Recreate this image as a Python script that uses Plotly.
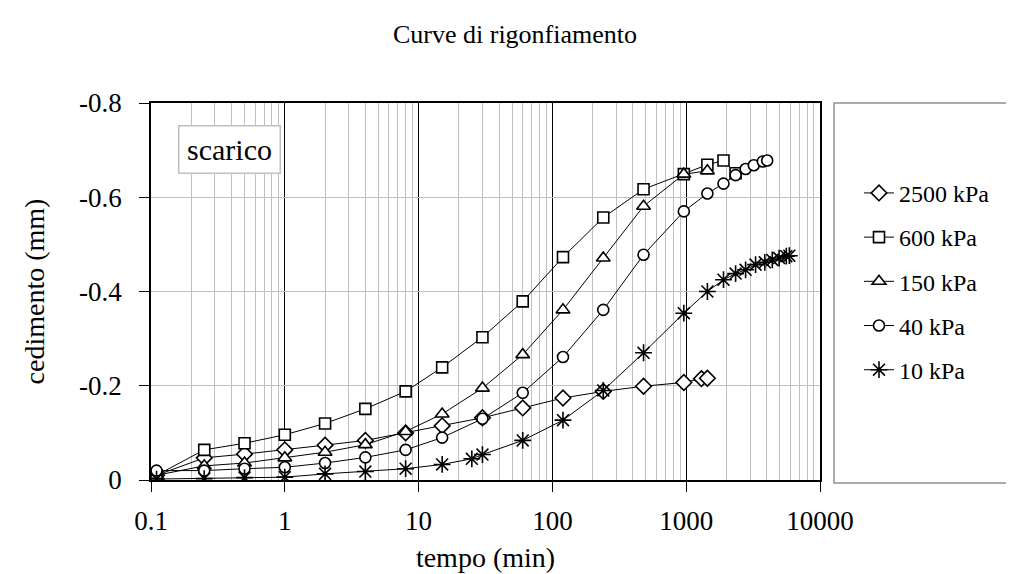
import plotly.graph_objects as go

# ---- data ----
t_2500 = [0.11, 0.25, 0.5, 1, 2, 4, 8, 15, 30, 60, 120, 240, 480, 960, 1300, 1440]
s_2500 = [-0.010, -0.047, -0.055, -0.064, -0.074, -0.084, -0.100, -0.115, -0.132, -0.153,
          -0.174, -0.188, -0.199, -0.207, -0.215, -0.216]

t_600 = [0.11, 0.25, 0.5, 1, 2, 4, 8, 15, 30, 60, 120, 240, 480, 960, 1440, 1900, 2340]
s_600 = [-0.010, -0.064, -0.078, -0.096, -0.120, -0.151, -0.188, -0.239, -0.303, -0.379,
         -0.473, -0.557, -0.617, -0.649, -0.669, -0.678, -0.651]

t_150 = [0.11, 0.25, 0.5, 1, 2, 4, 8, 15, 30, 60, 120, 240, 480, 960, 1440]
s_150 = [-0.010, -0.030, -0.036, -0.047, -0.059, -0.075, -0.103, -0.140, -0.195, -0.266,
         -0.361, -0.471, -0.581, -0.649, -0.656]

t_40 = [0.11, 0.25, 0.5, 1, 2, 4, 8, 15, 30, 60, 120, 240, 480, 960, 1440, 1900, 2340,
        2780, 3200, 3740, 4030]
s_40 = [-0.020, -0.020, -0.024, -0.027, -0.036, -0.048, -0.064, -0.090, -0.130, -0.185,
        -0.261, -0.361, -0.478, -0.570, -0.608, -0.629, -0.647, -0.660, -0.668, -0.676, -0.678]

t_10 = [0.11, 0.25, 0.5, 1, 2, 4, 8, 15, 25, 30, 60, 120, 240, 480, 960, 1440, 1900,
        2340, 2780, 3300, 3870, 4400, 4950, 5600, 5900]
s_10 = [-0.002, -0.003, -0.005, -0.006, -0.013, -0.018, -0.024, -0.033, -0.045, -0.054,
        -0.084, -0.127, -0.190, -0.270, -0.354, -0.400, -0.425, -0.438, -0.446, -0.457,
        -0.462, -0.467, -0.471, -0.475, -0.476]

series_names = ["2500 kPa", "600 kPa", "150 kPa", "40 kPa", "10 kPa"]

x_tickvals = [0.1, 1, 10, 100, 1000, 10000]
x_ticktext = ["0.1", "1", "10", "100", "1000", "10000"]
y_tickvals = [0, -0.2, -0.4, -0.6, -0.8]
y_ticktext = ["0", "-0.2", "-0.4", "-0.6", "-0.8"]

FONT = "Liberation Serif"

styles = [
    dict(symbol="diamond", size=12, color="white"),
    dict(symbol="square", size=11, color="white"),
    dict(symbol="triangle-up", size=12, color="white"),
    dict(symbol="circle", size=11, color="white"),
    dict(symbol="asterisk-open", size=14, color="black"),
]

data = [(t_2500, s_2500), (t_600, s_600), (t_150, s_150), (t_40, s_40), (t_10, s_10)]

fig = go.Figure()
for (tx, sy), name, st in zip(data, series_names, styles):
    fig.add_trace(go.Scatter(
        x=tx, y=sy, name=name, mode="lines+markers",
        legendgroup=name,
        line=dict(color="black", width=1),
        marker=dict(symbol=st["symbol"], size=st["size"], color=st["color"],
                    line=dict(color="black", width=1.6)),
    ))

fig.update_layout(
    width=1014, height=574,
    margin=dict(l=143, r=202, t=95, b=102),
    paper_bgcolor="white", plot_bgcolor="white",
    font=dict(family=FONT, color="black"),
    title=dict(text="Curve di rigonfiamento", x=0.5, xanchor="center",
               y=1 - 26 / 574, yanchor="middle",
               font=dict(family=FONT, size=26, color="black")),
    legend=dict(x=(851 - 143) / 669, xanchor="left", y=0.527, yanchor="middle",
                font=dict(family=FONT, size=24, color="black"),
                tracegroupgap=10, bgcolor="rgba(0,0,0,0)"),
    showlegend=True,
)

fig.update_xaxes(
    type="log", range=[-1, 4],
    tickvals=x_tickvals, ticktext=x_ticktext,
    tickfont=dict(family=FONT, size=27, color="black"),
    ticks="outside", ticklen=10, tickcolor="black", tickwidth=1,
    ticklabelstandoff=6,
    showgrid=True, gridcolor="black", gridwidth=1,
    minor=dict(dtick="D1", showgrid=True, gridcolor="#c0c0c0", gridwidth=1, ticks=""),
    showline=True, linecolor="black", linewidth=1.5, mirror=True,
    title=dict(text="tempo (min)", font=dict(family=FONT, size=28, color="black"), standoff=12),
    zeroline=False,
)
fig.update_yaxes(
    range=[0, -0.8],
    tickvals=y_tickvals, ticktext=y_ticktext,
    tickfont=dict(family=FONT, size=27, color="black"),
    ticks="outside", ticklen=10, tickcolor="black", tickwidth=1,
    ticklabelstandoff=12,
    showgrid=True, gridcolor="#c0c0c0", gridwidth=1,
    showline=True, linecolor="black", linewidth=1.5, mirror=True,
    title=dict(text="cedimento (mm)", font=dict(family=FONT, size=28, color="black"), standoff=26),
    zeroline=False,
)

# "scarico" label box
fig.add_annotation(
    text="scarico", xref="paper", yref="paper",
    x=(221 - 143) / 669, y=(472 - 141) / 377, xanchor="center", yanchor="middle",
    showarrow=False, font=dict(family=FONT, size=30, color="black"),
    bordercolor="#c0c0c0", borderwidth=1.5, bgcolor="white",
    width=98, height=44,
)

# legend frame
fig.add_shape(type="rect", xref="paper", yref="paper",
              x0=(826 - 143) / 669, x1=(1011 - 143) / 669,
              y0=(472 - 475) / 377, y1=1.0,
              line=dict(color="#909090", width=1.5), fillcolor="rgba(0,0,0,0)")

fig.write_html("out.html")
